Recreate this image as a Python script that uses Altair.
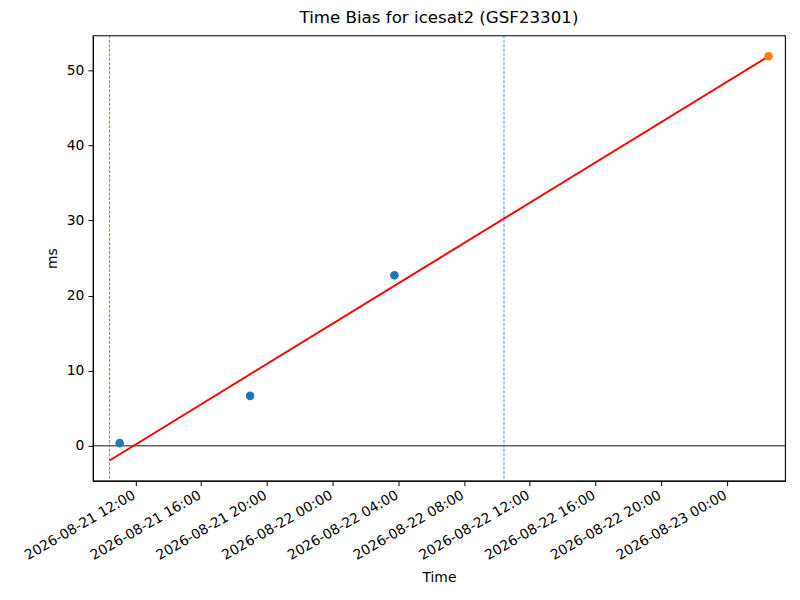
import altair as alt
import pandas as pd

chart_title = "Time Bias for icesat2 (GSF23301)"

obs_times = ["2026-08-21T11:03:00", "2026-08-21T18:59:00", "2026-08-22T03:46:00"]
obs_ms = [0.36, 6.65, 22.7]
pred_times = ["2026-08-23T02:32:00"]
pred_ms = [51.86]
fit_times = ["2026-08-21T10:26:00", "2026-08-23T02:32:00"]
fit_ms = [-1.95, 51.86]
vline_times = ["2026-08-21T10:26:00", "2026-08-22T10:26:00"]
tick_hours = [(21, 12), (21, 16), (21, 20), (22, 0), (22, 4), (22, 8), (22, 12), (22, 16), (22, 20), (23, 0)]
y_ticks = [0, 10, 20, 30, 40, 50]

FONT = "DejaVu Sans"

pts = pd.DataFrame({
    "t": obs_times + pred_times,
    "ms": obs_ms + pred_ms,
    "kind": ["obs"] * len(obs_times) + ["pred"] * len(pred_times),
})
fit = pd.DataFrame({"t": fit_times, "ms": fit_ms})
vl = pd.DataFrame({"t": vline_times})

x_scale = alt.Scale(domain=[alt.DateTime(year=2026, month=8, date=21, hours=9, minutes=25),
                            alt.DateTime(year=2026, month=8, date=23, hours=3, minutes=32)])
y_scale = alt.Scale(domain=[-4.65, 54.65], nice=False, zero=False)

x_axis = alt.Axis(
    title="Time",
    values=[alt.DateTime(year=2026, month=8, date=d, hours=h) for d, h in tick_hours],
    format="%Y-%m-%d %H:%M",
    labelAngle=-30, labelAlign="right", labelBaseline="top",
    labelPadding=2, labelOffset=-5, titlePadding=8, grid=False, labelOverlap=False,
)
y_axis = alt.Axis(title="ms", values=y_ticks, grid=False, titlePadding=7)

X = alt.X("t:T", scale=x_scale, axis=x_axis)
Y = alt.Y("ms:Q", scale=y_scale, axis=y_axis)

zero = alt.Chart(pd.DataFrame({"z": [0]})).mark_rule(color="black", strokeWidth=0.9).encode(
    y=alt.Y("z:Q", scale=y_scale, axis=y_axis)
)
vlines = alt.Chart(vl).mark_rule(color="#1f77b4", strokeWidth=0.8, strokeDash=[3, 1.5]).encode(x=X)
line = alt.Chart(fit).mark_line(color="#ff0000", strokeWidth=2).encode(x=X, y=Y)
points = alt.Chart(pts).mark_circle(size=74, opacity=1).encode(
    x=X, y=Y,
    color=alt.Color("kind:N", scale=alt.Scale(domain=["obs", "pred"], range=["#1f77b4", "#ff7f0e"]), legend=None),
)

chart = alt.layer(zero, vlines, line, points).properties(
    width=693, height=446,
    title=alt.TitleParams(chart_title, font=FONT, fontSize=16.7, fontWeight="normal", color="black",
                          anchor="middle", frame="group", offset=8),
    autosize=alt.AutoSizeParams(type="none"),
    padding={"left": 85, "top": 27, "right": 7, "bottom": 111},
).configure_view(
    stroke="black", strokeWidth=1.1
).configure_axis(
    labelFont=FONT, titleFont=FONT, labelFontSize=13.9, titleFontSize=13.9,
    labelColor="black", titleColor="black", titleFontWeight="normal",
    domainColor="black", tickColor="black", tickSize=5, tickWidth=1, domainWidth=1.1,
    labelPadding=4,
)

chart.save("out.html", embed_options={"renderer": "svg", "actions": False})
